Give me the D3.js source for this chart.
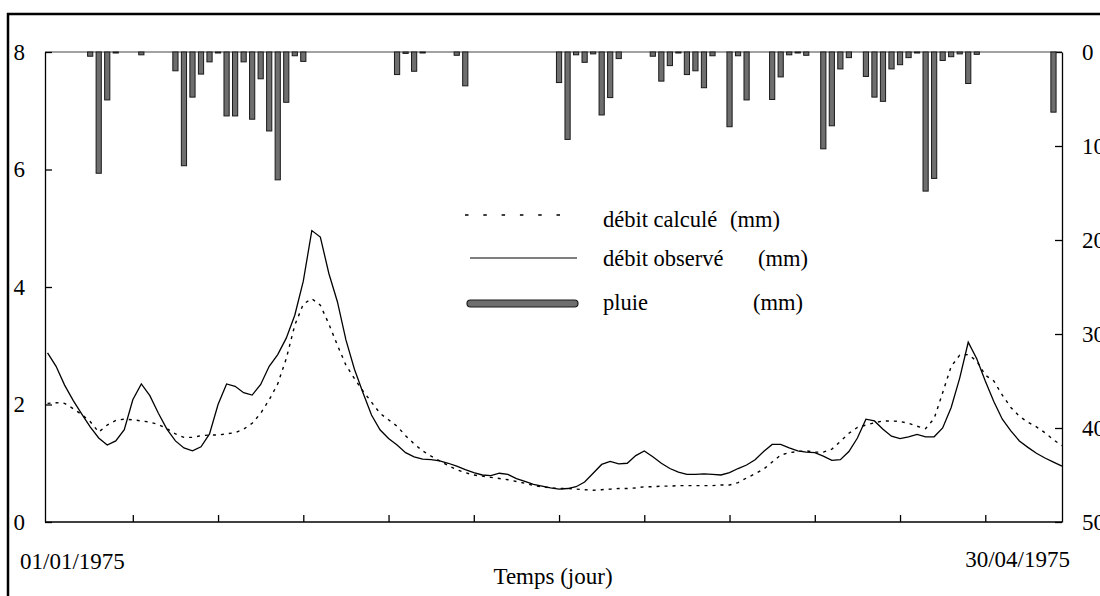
<!DOCTYPE html>
<html>
<head>
<meta charset="utf-8">
<script src="https://cdn.jsdelivr.net/npm/d3@7"></script>
<style>
  body { margin: 0; background: #fff; }
  svg { display: block; }
</style>
</head>
<body>
<svg id="chart"></svg>
<script>
// daily values, day 0 = 01/01/1975, day 119 = 30/04/1975
var observed = [2.88,2.65,2.33,2.07,1.84,1.62,1.43,1.31,1.38,1.57,
    2.08,2.35,2.15,1.85,1.58,1.38,1.26,1.21,1.28,1.5,
    2.0,2.35,2.31,2.2,2.16,2.34,2.65,2.85,3.13,3.52,
    4.1,4.96,4.85,4.23,3.75,3.1,2.6,2.2,1.82,1.57,
    1.42,1.31,1.18,1.11,1.07,1.06,1.04,1.0,0.95,0.89,
    0.84,0.8,0.79,0.83,0.81,0.74,0.69,0.64,0.61,0.58,
    0.56,0.57,0.6,0.68,0.83,0.98,1.03,0.99,1.0,1.13,
    1.21,1.11,1.0,0.91,0.85,0.81,0.81,0.82,0.81,0.8,
    0.84,0.91,0.97,1.06,1.2,1.32,1.32,1.26,1.21,1.19,
    1.18,1.12,1.05,1.06,1.2,1.43,1.75,1.72,1.58,1.46,
    1.42,1.45,1.49,1.45,1.45,1.6,1.95,2.45,3.06,2.78,
    2.4,2.05,1.75,1.55,1.38,1.27,1.17,1.09,1.02,0.95];

var calculated = [2.02,2.03,2.02,1.93,1.83,1.71,1.53,1.65,1.73,1.75,
    1.74,1.72,1.7,1.66,1.59,1.5,1.44,1.44,1.47,1.48,
    1.48,1.5,1.52,1.58,1.68,1.85,2.08,2.35,2.78,3.35,
    3.71,3.8,3.69,3.37,3.01,2.67,2.44,2.23,2.04,1.85,
    1.74,1.63,1.47,1.33,1.21,1.12,1.04,0.96,0.89,0.84,
    0.8,0.78,0.76,0.74,0.72,0.69,0.66,0.62,0.6,0.58,
    0.57,0.57,0.56,0.55,0.54,0.55,0.56,0.57,0.57,0.58,
    0.6,0.6,0.61,0.61,0.62,0.62,0.62,0.62,0.62,0.63,
    0.63,0.67,0.75,0.82,0.9,1.02,1.14,1.18,1.2,1.21,
    1.19,1.19,1.24,1.37,1.51,1.61,1.65,1.69,1.72,1.72,
    1.71,1.68,1.63,1.59,1.76,2.2,2.65,2.84,2.85,2.74,
    2.5,2.4,2.16,1.95,1.8,1.7,1.62,1.52,1.4,1.3];

// rain (mm) only on days it fell
var rainDay = [5,6,7,8,11,15,16,17,18,19,20,21,22,23,24,25,26,27,28,29,30,
    41,42,43,44,48,49,60,61,62,63,64,65,66,67,71,72,73,74,75,76,77,78,
    80,81,82,85,86,87,88,89,91,92,93,94,96,97,98,99,100,101,102,103,104,
    105,106,107,108,109,118];
var rainMm = [0.45,12.9,5.1,0.1,0.3,2.0,12.1,4.8,2.35,1.05,0.1,6.8,6.8,1.05,7.15,2.85,8.4,13.6,5.35,0.4,1.0,
    2.4,0.15,2.05,0.1,0.35,3.6,3.25,9.3,0.3,1.1,0.2,6.7,4.85,0.7,0.45,3.1,1.45,0.1,2.4,2.0,3.8,0.4,
    7.95,0.4,5.1,5.05,2.65,0.3,0.1,0.35,10.3,7.85,1.8,0.6,2.6,4.8,5.25,1.8,1.35,0.6,0.1,14.8,13.45,
    0.9,0.5,0.2,3.35,0.25,6.4];

var leftTicks = [0, 2, 4, 6, 8];
var rightTicks = [0, 10, 20, 30, 40, 50];
var dayTicks = [10, 20, 30, 40, 50, 60, 70, 80, 90, 100, 110];
var dateLabels = ["01/01/1975", "30/04/1975"];
var legendLabels = ["débit calculé", "débit observé", "pluie"];
var legendUnits = ["(mm)", "(mm)", "(mm)"];

var font = "Liberation Serif";

var svg = d3.select("#chart")
    .attr("width", 1100)
    .attr("height", 596);

var dims = {left: 45, right: 1062, top: 52, bottom: 522};

//Scales
var xScale = d3.scaleLinear().domain([-0.3, 119]).range([dims.left, dims.right]);
var yScale = d3.scaleLinear().domain([0, 8]).range([dims.bottom, dims.top]);
var rainScale = d3.scaleLinear().domain([0, 50]).range([dims.top, dims.bottom]);

//Outer frame
svg.append("rect")
    .attr("x", 8).attr("y", 14)
    .attr("width", 1300).attr("height", 800)
    .attr("fill", "none")
    .attr("stroke", "#000")
    .attr("stroke-width", 2.5);

//Top line of the plot
svg.append("line")
    .attr("x1", dims.left).attr("x2", dims.right)
    .attr("y1", dims.top).attr("y2", dims.top)
    .attr("stroke", "#444")
    .attr("stroke-width", 1);

//Axes (ticks point inwards)
var leftAxis = svg.append("g")
    .attr("transform", `translate(${dims.left},0)`)
    .call(d3.axisLeft(yScale).tickValues(leftTicks).tickSizeInner(-7).tickSizeOuter(0).tickPadding(20));

var rightAxis = svg.append("g")
    .attr("transform", `translate(${dims.right},0)`)
    .call(d3.axisRight(rainScale).tickValues(rightTicks).tickSizeInner(-7).tickSizeOuter(0).tickPadding(20));

var bottomAxis = svg.append("g")
    .attr("transform", `translate(0,${dims.bottom})`)
    .call(d3.axisBottom(xScale).tickValues(dayTicks).tickSizeInner(-7).tickSizeOuter(0).tickFormat(""));

[leftAxis, rightAxis, bottomAxis].forEach(g => {
    g.attr("font-family", font).attr("font-size", 23);
    g.selectAll("text").attr("fill", "#000");
    g.selectAll("path, line")
        .attr("stroke", "#000")
        .attr("stroke-width", 1.3);
});
bottomAxis.select(".domain").attr("d", `M${dims.left},0H${dims.right}`);

//Rain bars hanging from the top
svg.append("g")
    .selectAll("rect")
    .data(rainDay)
    .enter()
    .append("rect")
    .attr("x", (d, i) => xScale(d) - 2.6)
    .attr("y", dims.top)
    .attr("width", 5.2)
    .attr("height", (d, i) => Math.max(rainScale(rainMm[i]) - dims.top, 1))
    .attr("fill", "#6e6e6e")
    .attr("stroke", "#1a1a1a")
    .attr("stroke-width", 1);

//Flow lines
var line = d3.line()
    .x((d, i) => xScale(i))
    .y(d => yScale(d));

svg.append("path")
    .datum(calculated)
    .attr("fill", "none")
    .attr("stroke", "#000")
    .attr("stroke-width", 1.4)
    .attr("stroke-dasharray", "3,5")
    .attr("d", line);

svg.append("path")
    .datum(observed)
    .attr("fill", "none")
    .attr("stroke", "#000")
    .attr("stroke-width", 1.3)
    .attr("d", line);

//Legend
var legend = svg.append("g")
    .attr("font-family", font)
    .attr("font-size", 22.5);
legend.append("line")
    .attr("x1", 465).attr("x2", 562).attr("y1", 215).attr("y2", 215)
    .attr("stroke", "#000").attr("stroke-width", 1.4)
    .attr("stroke-dasharray", "3.5,14.8");
legend.append("line")
    .attr("x1", 470).attr("x2", 577).attr("y1", 258).attr("y2", 258)
    .attr("stroke", "#000").attr("stroke-width", 1.2);
legend.append("rect")
    .attr("x", 467).attr("y", 300).attr("width", 111).attr("height", 7)
    .attr("rx", 3.5)
    .attr("fill", "#6e6e6e").attr("stroke", "#1a1a1a").attr("stroke-width", 1.2);

var rowY = [227, 266, 310];
var unitX = [730, 758, 753];
legend.selectAll(".leg-label")
    .data(legendLabels)
    .enter()
    .append("text")
    .attr("class", "leg-label")
    .attr("x", 603)
    .attr("y", (d, i) => rowY[i])
    .text(d => d);
legend.selectAll(".leg-unit")
    .data(legendUnits)
    .enter()
    .append("text")
    .attr("class", "leg-unit")
    .attr("x", (d, i) => unitX[i])
    .attr("y", (d, i) => rowY[i])
    .text(d => d);

//Date labels and axis title
var labels = svg.append("g")
    .attr("font-family", font)
    .attr("font-size", 23);
labels.append("text")
    .attr("x", 20).attr("y", 569)
    .text(dateLabels[0]);
labels.append("text")
    .attr("x", 1070).attr("y", 567)
    .attr("text-anchor", "end")
    .text(dateLabels[1]);
labels.append("text")
    .attr("x", 553).attr("y", 584)
    .attr("text-anchor", "middle")
    .text("Temps (jour)");
</script>
</body>
</html>
